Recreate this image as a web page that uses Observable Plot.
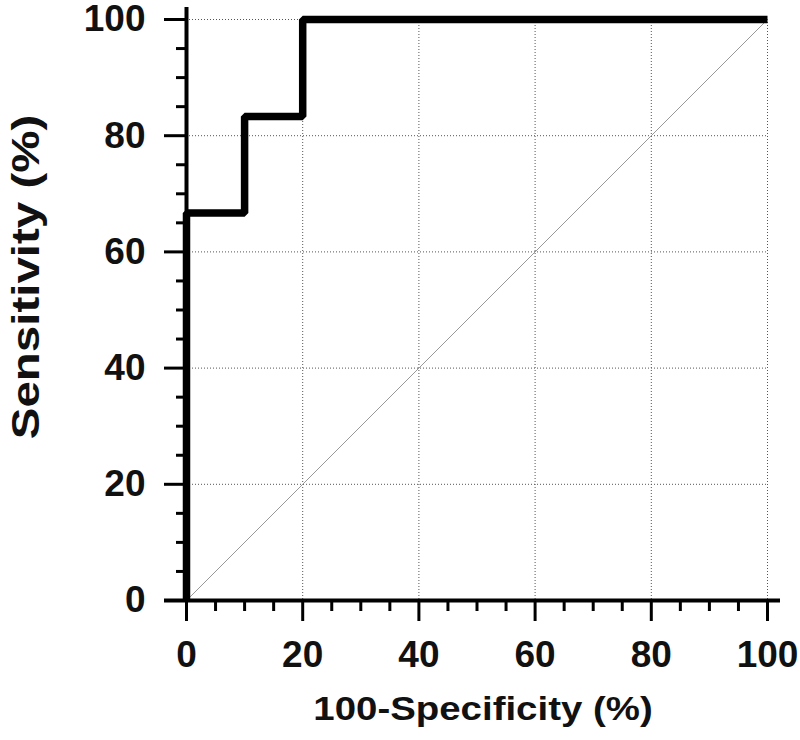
<!DOCTYPE html>
<html>
<head>
<meta charset="utf-8">
<script src="https://cdn.jsdelivr.net/npm/d3@7"></script>
<script src="https://cdn.jsdelivr.net/npm/@observablehq/plot@0.6"></script>
<style>
  html, body { margin: 0; padding: 0; background: #fff; }
  svg { font-family: "Liberation Sans", Arial, sans-serif; }
</style>
</head>
<body>
<div id="chart"></div>
<script>
// ROC curve data (100-Specificity %, Sensitivity %)
const fpr = [0, 0, 10, 10, 20, 20, 100];
const tpr = [0, 66.7, 66.7, 83.3, 83.3, 100, 100];
const diagonal = [0, 100];
const majorTicks = [0, 20, 40, 60, 80, 100];
const minorTicks = [5, 10, 15, 25, 30, 35, 45, 50, 55, 65, 70, 75, 85, 90, 95];
const xTitle = "100-Specificity (%)";
const yTitle = "Sensitivity (%)";

const roc = fpr.map((x, i) => ({x, y: tpr[i]}));
const diag = diagonal.map(v => ({x: v, y: v}));

const chart = Plot.plot({
  width: 800,
  height: 740,
  marginLeft: 186,
  marginRight: 33,
  marginTop: 19,
  marginBottom: 140,
  x: {domain: [0, 100]},
  y: {domain: [0, 100]},
  style: {fontFamily: "'Liberation Sans', Arial, sans-serif", background: "white"},
  marks: [
    Plot.gridX(majorTicks.slice(1), {stroke: "#555", strokeOpacity: 1, strokeWidth: 1, strokeDasharray: "1,2"}),
    Plot.gridY(majorTicks.slice(1), {stroke: "#555", strokeOpacity: 1, strokeWidth: 1, strokeDasharray: "1,2"}),
    Plot.line(diag, {x: "x", y: "y", stroke: "#999", strokeWidth: 1}),
    // minor ticks
    Plot.axisX(minorTicks, {anchor: "bottom", tickSize: 11, strokeWidth: 3, text: null, label: null}),
    Plot.axisY(minorTicks, {anchor: "left", tickSize: 10, strokeWidth: 3, text: null, label: null}),
    // major ticks
    Plot.axisX(majorTicks, {anchor: "bottom", tickSize: 21, tickPadding: 19, strokeWidth: 3,
      fontSize: 37, fontWeight: "bold", fill: "#111", label: null}),
    Plot.axisY(majorTicks, {anchor: "left", tickSize: 22, tickPadding: 19, strokeWidth: 3,
      fontSize: 37, fontWeight: "bold", fill: "#111", label: null}),
    // axis lines
    Plot.ruleY([0], {stroke: "black", strokeWidth: 4, insetLeft: -22, insetRight: -13}),
    Plot.ruleX([0], {stroke: "black", strokeWidth: 4, insetTop: -12}),
    // ROC curve
    Plot.line(roc, {x: "x", y: "y", stroke: "black", strokeWidth: 7.5, strokeLinejoin: "miter", strokeLinecap: "butt"}),
    // axis titles
    Plot.text([xTitle], {frameAnchor: "bottom", textAnchor: "middle", lineAnchor: "middle", dx: 6, dy: 109,
      fontSize: 34, fontWeight: "bold", fill: "#111"}),
    Plot.text([yTitle], {frameAnchor: "left", textAnchor: "middle", lineAnchor: "middle", dx: -160, dy: -33,
      rotate: -90, fontSize: 38, fontWeight: "bold", fill: "#111"})
  ]
});
document.getElementById("chart").appendChild(chart);
// stretch the axis titles along their reading direction, as in the reference
const titleGroups = chart.querySelectorAll('g[aria-label="text"]');
function stretch(g, sx, sy) {
  if (!g) return;
  const t = g.querySelector("text");
  const b = t.getBBox();
  const ct = t.getCTM(), cg = g.getCTM();
  // centre of the text in the group's local coordinates
  const p = chart.createSVGPoint();
  p.x = b.x + b.width / 2; p.y = b.y + b.height / 2;
  const q = p.matrixTransform(cg.inverse().multiply(ct));
  const old = g.getAttribute("transform") || "";
  g.setAttribute("transform", `${old} translate(${q.x},${q.y}) scale(${sx},${sy}) translate(${-q.x},${-q.y})`);
}
stretch(titleGroups[0], 1.13, 1);
stretch(titleGroups[1], 1, 1.25);
</script>
</body>
</html>
